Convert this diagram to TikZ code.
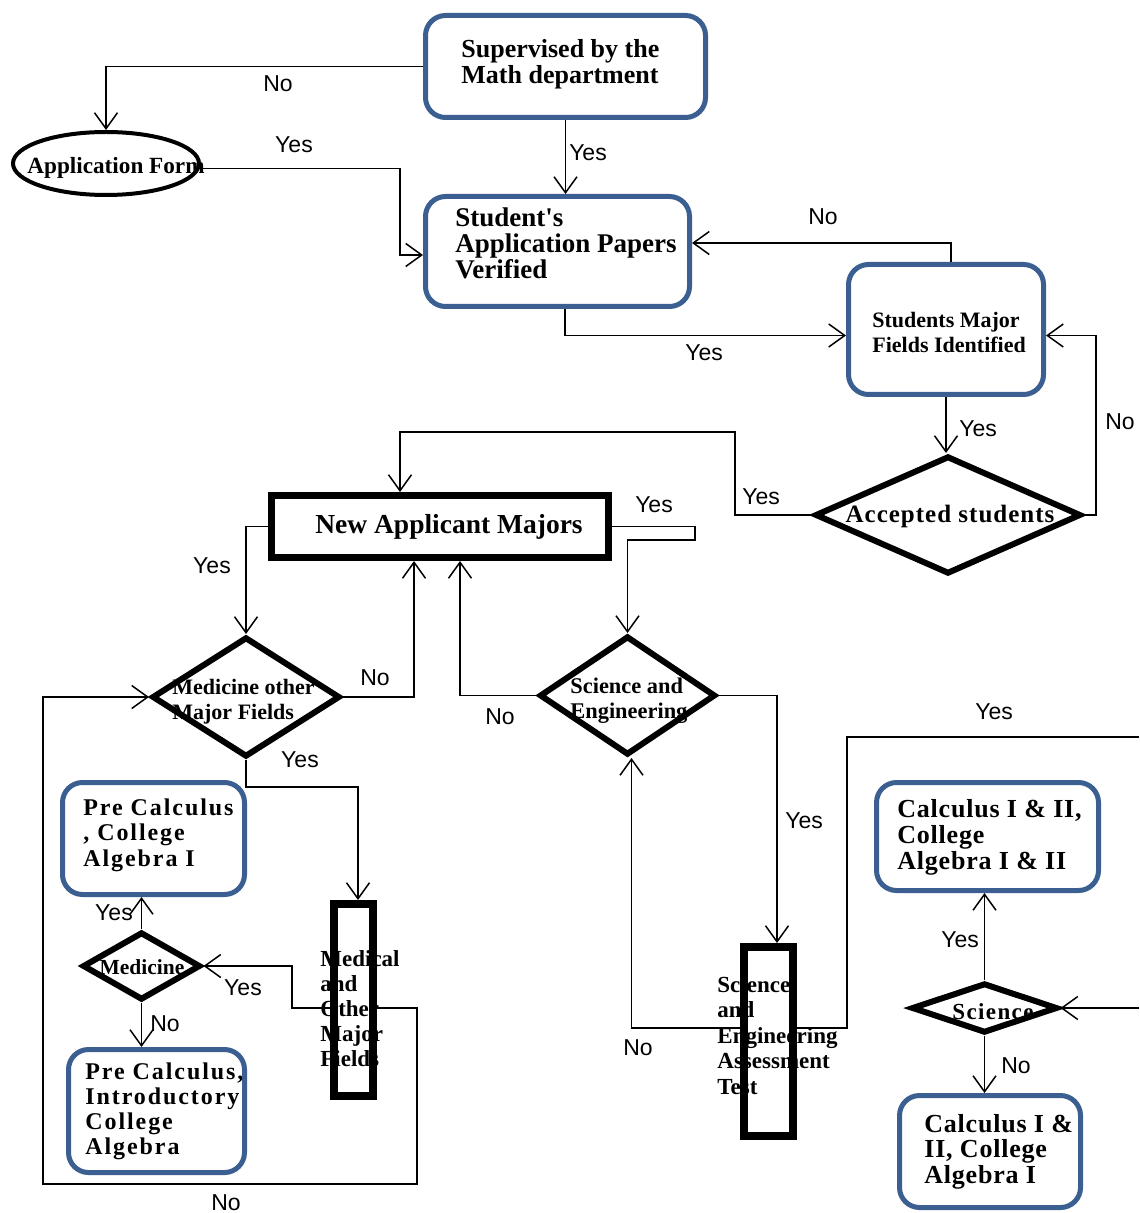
\documentclass[tikz,border=0pt]{standalone}
\usepackage{fontspec}
\setmainfont{Liberation Serif}
\newfontfamily\lblfont{Liberation Sans}
\usetikzlibrary{arrows.meta, shapes.geometric}
\definecolor{boxblue}{RGB}{60,95,145}

\begin{document}
\begin{tikzpicture}[x=0.5pt, y=-0.5pt,
    bluebox/.style={draw=boxblue, line width=2.5pt, rounded corners=10pt, inner sep=0pt},
    thickbox/.style={draw, line width=3.5pt, inner sep=0pt},
    decision/.style={diamond, draw, line width=3pt, inner sep=0pt},
    txt/.style={inner sep=0pt, align=left, anchor=north west},
    lbl/.style={font=\lblfont\fontsize{11.5}{13}\selectfont, inner sep=0pt},
    link/.style={line width=0.75pt},
    conn/.style={link, -{Straight Barb[length=8pt, width=11.5pt]}}]
\useasboundingbox (0,0) rectangle (1139,1213);

% texts first, the borders lie over them
\node[txt, font={\bfseries\fontsize{13}{11.7}\selectfont}] (superT) at (461,39) {Supervised by the\\Math department};
\node[txt, font={\bfseries\fontsize{13.5}{13}\selectfont}] (verifiedT) at (455,207) {Student\textquotesingle s\\Application Papers\\Verified};
\node[txt, font={\bfseries\fontsize{11}{12.5}\selectfont}] (identifiedT) at (872,312) {Students Major\\Fields Identified};
\node[inner sep=0pt, font={\bfseries\fontsize{11.6}{12}\selectfont}] (appformT) at (116,168) {Application Form};
\node[inner sep=0pt, font={\bfseries\fontsize{13.75}{14}\selectfont}] (namT) at (449,527) {New Applicant Majors};
\node[inner sep=0pt, font={\bfseries\fontsize{12.5}{13}\selectfont\addfontfeatures{LetterSpace=4}}] (acceptedT) at (950,516) {Accepted students};
\node[txt, font={\bfseries\fontsize{11}{12.5}\selectfont}] (medotherT) at (172,679) {Medicine other\\Major Fields};
\node[txt, font={\bfseries\fontsize{11.2}{12.5}\selectfont}] (sciengT) at (570,678) {Science and\\Engineering};
\node[txt, font={\bfseries\fontsize{12}{12.75}\selectfont\addfontfeatures{LetterSpace=8}}] (precalcAT) at (83,798) {Pre Calculus\\, College\\Algebra I};
\node[inner sep=0pt, font={\bfseries\fontsize{10.75}{12}\selectfont}] (medicineT) at (142,967) {Medicine};
\node[txt, font={\bfseries\fontsize{12}{12.6}\selectfont\addfontfeatures{LetterSpace=8}}] (precalcBT) at (85,1062) {Pre Calculus,\\Introductory\\College\\Algebra};
\node[txt, font={\bfseries\fontsize{11.5}{12.5}\selectfont}] (medfieldsT) at (320,950) {Medical\\and\\Other\\Major\\Fields};
\node[txt, font={\bfseries\fontsize{11.5}{12.75}\selectfont}] (seatT) at (717,976) {Science\\and\\Engineering\\Assessment\\Test};
\node[txt, font={\bfseries\fontsize{13}{13}\selectfont\addfontfeatures{LetterSpace=3}}] (calcABT) at (897,799) {Calculus I \& II,\\College\\Algebra I \& II};
\node[inner sep=0pt, font={\bfseries\fontsize{11.5}{12}\selectfont\addfontfeatures{LetterSpace=6}}] (scienceT) at (993,1012) {Science};
\node[txt, font={\bfseries\fontsize{13}{12.75}\selectfont\addfontfeatures{LetterSpace=3}}] (calcAT) at (924,1114) {Calculus I \&\\II, College\\Algebra I};

% boxes
\node[bluebox, minimum width=140pt, minimum height=51pt] (super) at (565.5,66.5) {};
\node[bluebox, minimum width=132pt, minimum height=55pt] (verified) at (557.5,251.5) {};
\node[bluebox, minimum width=97.5pt, minimum height=65pt] (identified) at (946,329.5) {};
\node[bluebox, minimum width=91pt, minimum height=56pt] (precalcA) at (153.5,838.5) {};
\node[bluebox, minimum width=88pt, minimum height=61.5pt] (precalcB) at (156.5,1111) {};
\node[bluebox, minimum width=111pt, minimum height=54pt] (calcAB) at (987.5,836.5) {};
\node[bluebox, minimum width=90.5pt, minimum height=56pt] (calcA) at (990,1151.5) {};
\node[ellipse, draw, line width=2pt, inner sep=0pt, minimum width=93pt, minimum height=31.5pt] (appform) at (106,163.5) {};
\node[thickbox, minimum width=168.5pt, minimum height=31pt] (nam) at (440,526.5) {};
\node[thickbox, line width=4pt, minimum width=19.5pt, minimum height=96pt] (medfields) at (353.5,1000) {};
\node[thickbox, line width=4pt, minimum width=24.5pt, minimum height=94.5pt] (seat) at (768.5,1041.5) {};

% decisions
\node[decision, minimum width=133pt, minimum height=59pt] (accepted) at (948,515) {};
\node[decision, minimum width=94pt, minimum height=60pt] (medother) at (246,697) {};
\node[decision, minimum width=88pt, minimum height=59.5pt] (scieng) at (627.5,695.5) {};
\node[decision, minimum width=59pt, minimum height=34pt] (medicine) at (141.5,966) {};
\node[decision, minimum width=73pt, minimum height=25pt] (science) at (984.5,1008) {};

\coordinate (edgeA) at (1139,737);
\coordinate (edgeB) at (1139,1008);

% connectors
\draw[conn] (super.west) -| (appform.north);
\draw[conn] ([yshift=-2.5pt]appform.east) -| (400,200) |- ([yshift=-1.75pt]verified.west);
\draw[conn] (super.south) -- (super.south |- verified.north);
\draw[conn] ([xshift=3.75pt]verified.south) |- ([yshift=-3pt]identified.west);
\draw[conn] ([xshift=2.5pt]identified.north) |- ([yshift=4.25pt]verified.east);
\draw[conn] (identified.south) -- (identified.south |- accepted.north);
\draw[conn] (accepted.east) -| (1096,400) |- ([yshift=-3pt]identified.east);
\draw[conn] (accepted.west) -| (735,432) -| ([xshift=-20pt]nam.north);
\draw[conn] (nam.west) -| (medother.north);
\draw[conn] (nam.east) -| (695,540) -| (scieng.north);
\draw[conn] (medother.east) -| ([xshift=-13pt]nam.south);
\draw[conn] (scieng.west) -| ([xshift=10pt]nam.south);
\draw[conn] (medother.south) -- ++(0,27) -| ([xshift=2.25pt]medfields.north);
\draw[conn] (scieng.east) -| ([xshift=4.25pt]seat.north);
\draw[conn] ([yshift=6.75pt]seat.west) -| ([xshift=2pt]scieng.south);
\draw[link] ([yshift=6.75pt]seat.east) -| (847,737) -- (edgeA);
\draw[conn] (edgeB) -- (science.east);
\draw[conn] ([yshift=-4pt]medfields.east) -| (417,1184) -| (43,697) -- (medother.west);
\draw[conn] ([yshift=-4pt]medfields.west) -| (292,966) -- (medicine.east);
\draw[conn] (medicine.north) -- (medicine.north |- precalcA.south);
\draw[conn] (medicine.south) -- (medicine.south |- precalcB.north);
\draw[conn] (science.north) -- (science.north |- calcAB.south);
\draw[conn] (science.south) -- (science.south |- calcA.north);

\foreach \t/\x/\y [count=\n] in {No/278/84, Yes/294/145, Yes/588/153, No/823/217, Yes/704/353,
    Yes/978/429, No/1120/422, Yes/761/497, Yes/654/505, Yes/212/566, No/375/678, No/500/717,
    Yes/300/760, Yes/804/821, Yes/994/712, Yes/114/913, Yes/243/988, No/165/1024, No/638/1048,
    Yes/960/940, No/1016/1066, No/226/1203} {
    \node[lbl] (lbl\n) at (\x,\y) {\t};
}
\end{tikzpicture}
\end{document}
